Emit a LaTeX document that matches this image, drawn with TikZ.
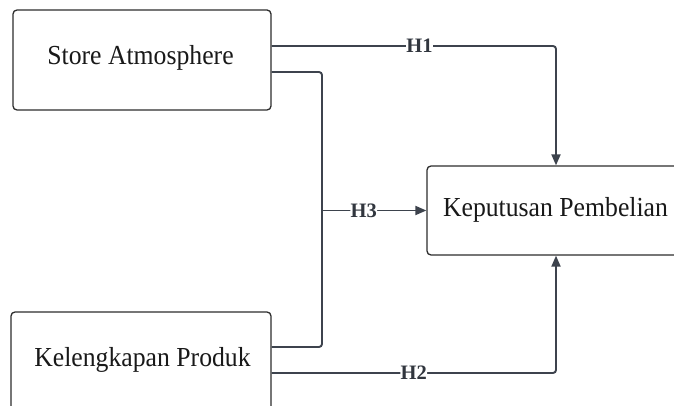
\documentclass[tikz,border=0pt]{standalone}
\usepackage{fontspec}
\setmainfont{Liberation Serif}
\newfontfamily\boxfont[FakeStretch=0.935]{Liberation Serif}
\usetikzlibrary{arrows.meta}
\definecolor{linec}{HTML}{3D434D}
\definecolor{boxc}{HTML}{2E2E2E}
\begin{document}
\begin{tikzpicture}[x=1pt,y=-1pt,
  box/.style={draw=boxc,line width=1.3pt,rounded corners=4pt,inner sep=0pt},
  lbl/.style={font=\boxfont\fontsize{27.5}{32}\selectfont,text=black!90,inner sep=0pt,anchor=base},
  hyp/.style={font=\bfseries\fontsize{20.5}{24}\selectfont,fill=white,inner sep=0.3pt,text=linec!80!black},
  conn/.style={draw=linec,line width=1.9pt,rounded corners=3pt},
  arr/.style={conn,-{Triangle[length=11pt,width=9pt]}}]
\useasboundingbox (0,0) rectangle (674,406);
\clip (0,0) rectangle (674,406);
\fill[white] (0,0) rectangle (674,406);
\node[box,minimum width=258pt,minimum height=100pt] (sa) at (142,60) {};
\node[box,minimum width=260pt,minimum height=110pt] (kpb) at (141,367) {};
\node[box,minimum width=283pt,minimum height=89pt] (kp) at (568.5,210.5) {};
\node[lbl] (sat) at (140.5,65) {Store Atmosphere};
\node[lbl] (kpt) at (142.5,366) {Kelengkapan Produk};
\node[lbl] (kpbt) at (555.5,216) {Keputusan Pembelian};
\coordinate (j) at (322,210.5);
\draw[arr] ([yshift=14pt]sa.east) -| ([xshift=-12.5pt]kp.north) node[hyp,pos=0.26] (h1) {H1};
\draw[conn] ([yshift=-12pt]sa.east) -| (j) |- ([yshift=20pt]kpb.east);
\draw[arr] (j) -- (kp.west) node[hyp,pos=0.4] (h3) {H3};
\draw[arr] ([yshift=-6pt]kpb.east) -| ([xshift=-12.5pt]kp.south) node[hyp,pos=0.25] (h2) {H2};
\end{tikzpicture}
\end{document}
